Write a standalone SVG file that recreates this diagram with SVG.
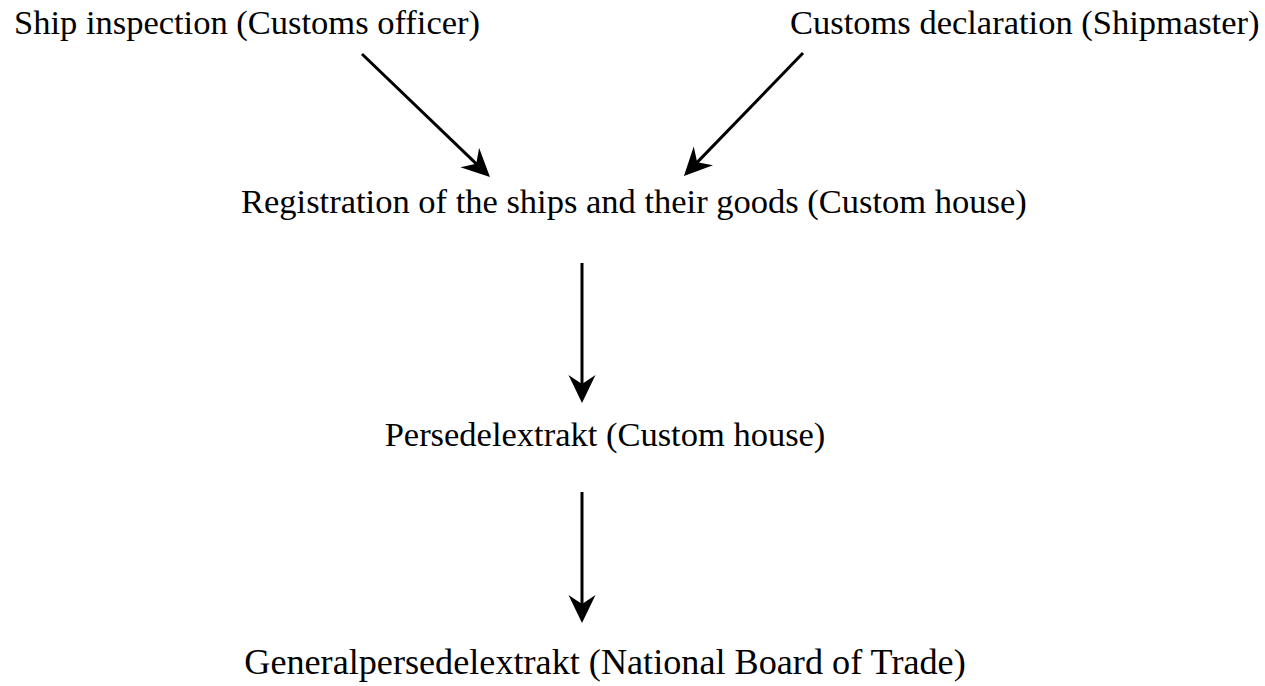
<svg xmlns="http://www.w3.org/2000/svg" width="1265" height="686" viewBox="0 0 1265 686">
<style>
  text { font-family: "Liberation Serif", "Times New Roman", serif; font-size: 34.5px; fill: #000; }
  .conn { stroke: #000; stroke-width: 3; fill: none; marker-end: url(#head); }
</style>
<defs>
  <marker id="head" markerUnits="userSpaceOnUse" markerWidth="28" markerHeight="28" viewBox="0 0 28 28" refX="16" refY="14" orient="auto">
    <path d="M0,0.5 L28,14 L0,27.5 L9,14 Z" fill="#000"/>
  </marker>
</defs>
<rect width="1265" height="686" fill="#fff"/>
<g id="n-inspection"><text x="14" y="34">Ship inspection (Customs officer)</text></g>
<g id="n-declaration"><text x="790" y="34">Customs declaration (Shipmaster)</text></g>
<g id="n-registration"><text x="241" y="213">Registration of the ships and their goods (Custom house)</text></g>
<g id="n-persedel"><text x="605" y="446" text-anchor="middle">Persedelextrakt (Custom house)</text></g>
<g id="n-general"><text x="605" y="674" text-anchor="middle" style="font-size:36.2px">Generalpersedelextrakt (National Board of Trade)</text></g>
<g id="connectors">
  <line class="conn" x1="362" y1="54" x2="481.3" y2="168.7"/>
  <line class="conn" x1="803" y1="53" x2="692.3" y2="167.4"/>
  <line class="conn" x1="582" y1="263" x2="582" y2="391"/>
  <line class="conn" x1="582" y1="492" x2="582" y2="611"/>
</g>
</svg>
